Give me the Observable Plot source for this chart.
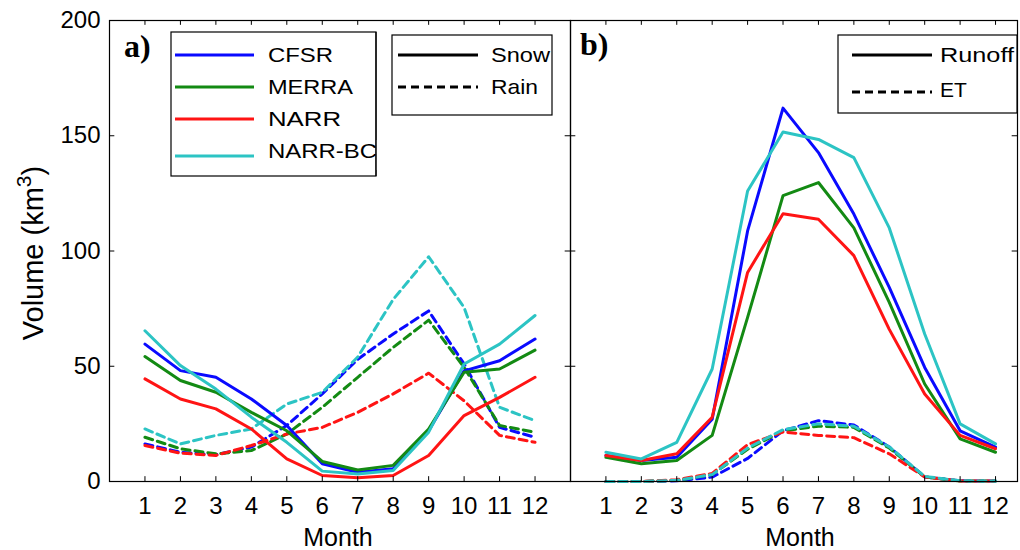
<!DOCTYPE html>
<html>
<head>
<meta charset="utf-8">
<script src="https://cdn.jsdelivr.net/npm/d3@7"></script>
<script src="https://cdn.jsdelivr.net/npm/@observablehq/plot@0.6"></script>
<style>
  html, body { margin: 0; padding: 0; background: #fff; }
  #wrap { position: relative; width: 1020px; height: 550px; overflow: hidden; font-family: "Liberation Sans", Arial, sans-serif; }
  #wrap > .pa, #wrap > .pb, #wrap > svg.ov { position: absolute; top: 0; }
  .pa { left: 0; }
  .pb { left: 569px; }
  svg.ov { left: 0; pointer-events: none; }
</style>
</head>
<body>
<div id="wrap"></div>
<script>
// ---------- data ----------
const months = [1,2,3,4,5,6,7,8,9,10,11,12];
const products = ["CFSR", "MERRA", "NARR", "NARR-BC"];
const productColors = ["#0a0aff", "#138a13", "#ff1414", "#2cc4c4"];
const yTicks = [0, 50, 100, 150, 200];

// Panel a) Snow (solid) and Rain (dashed), km^3
const snowCFSR   = [59.6, 48.1, 45.2, 35.8, 24.3, 7.7, 4.0, 5.5, 22.0, 48.0, 52.4, 61.8];
const snowMERRA  = [54.2, 43.8, 38.7, 30.0, 22.0, 8.7, 5.0, 7.0, 22.8, 47.4, 48.8, 57.0];
const snowNARR   = [44.5, 35.8, 31.5, 22.8, 9.8, 2.6, 1.6, 2.6, 11.3, 28.6, 36.5, 45.2];
const snowNARRBC = [65.4, 50.3, 40.1, 27.9, 17.0, 4.5, 3.3, 4.8, 21.4, 51.0, 59.6, 72.0];

const rainCFSR   = [16.3, 12.7, 11.6, 14.9, 24.3, 38.0, 53.0, 64.0, 74.0, 51.0, 23.5, 19.2];
const rainMERRA  = [19.2, 14.2, 12.0, 13.4, 20.6, 32.2, 45.2, 58.2, 70.0, 49.5, 24.3, 21.4];
const rainNARR   = [15.6, 12.3, 11.3, 15.6, 20.6, 23.5, 30.0, 38.0, 47.0, 35.0, 20.0, 17.0];
const rainNARRBC = [22.8, 16.3, 20.0, 22.8, 33.6, 38.7, 54.0, 79.0, 97.5, 75.5, 32.2, 26.4];

// Panel b) Runoff (solid) and ET (dashed), km^3
const runoffCFSR   = [11.3, 9.1, 10.5, 27.0, 108.7, 162.0, 142.7, 116.0, 84.2, 49.5, 22.0, 14.9];
const runoffMERRA  = [10.5, 7.7, 9.1, 20.0, 71.2, 124.0, 129.7, 110.0, 77.7, 42.3, 18.5, 12.7];
const runoffNARR   = [11.3, 9.1, 12.0, 27.9, 90.7, 116.2, 113.8, 98.0, 66.0, 38.0, 20.0, 14.2];
const runoffNARRBC = [12.7, 9.8, 17.0, 48.8, 126.0, 151.6, 148.4, 140.5, 110.0, 64.0, 25.0, 16.3];

const etCFSR   = [0.0, 0.0, 0.3, 1.9, 10.0, 22.0, 26.4, 24.5, 15.0, 2.0, 0.3, 0.2];
const etMERRA  = [0.0, 0.0, 0.5, 3.0, 14.0, 22.0, 24.0, 23.5, 14.5, 2.0, 0.2, 0.2];
const etNARR   = [0.0, 0.0, 0.8, 3.5, 16.0, 21.5, 20.0, 19.0, 12.0, 2.0, 0.2, 0.2];
const etNARRBC = [0.0, 0.0, 0.5, 3.0, 14.5, 22.5, 25.0, 24.0, 15.0, 2.2, 0.3, 0.2];

// ---------- build tables ----------
function rows(seriesList, kind) {
  const out = [];
  seriesList.forEach((vals, i) => {
    vals.forEach((v, j) => out.push({month: months[j], product: products[i], kind, value: v}));
  });
  return out;
}
const snowRows   = rows([snowCFSR, snowMERRA, snowNARR, snowNARRBC], "Snow");
const rainRows   = rows([rainCFSR, rainMERRA, rainNARR, rainNARRBC], "Rain");
const runoffRows = rows([runoffCFSR, runoffMERRA, runoffNARR, runoffNARRBC], "Runoff");
const etRows     = rows([etCFSR, etMERRA, etNARR, etNARRBC], "ET");

const DASH = "8,5";
const LW = 3;
const color = {domain: products, range: productColors};
const tickFont = 24;

function innerTicks(xmax) {
  const inner = [50, 100, 150];
  return [
    Plot.ruleX(months, {x: d => d, y1: 0, y2: 2.1, stroke: "black", strokeWidth: 1}),
    Plot.ruleX(months, {x: d => d, y1: 200, y2: 197.9, stroke: "black", strokeWidth: 1}),
    Plot.ruleY(inner, {y: d => d, x1: 0, x2: 0.15, stroke: "black", strokeWidth: 1}),
    Plot.ruleY(inner, {y: d => d, x1: xmax, x2: xmax - 0.15, stroke: "black", strokeWidth: 1})
  ];
}

const plotA = Plot.plot({
  width: 571, height: 550,
  marginLeft: 109, marginRight: 1, marginTop: 20, marginBottom: 69,
  style: {fontFamily: "'Liberation Sans', Arial, sans-serif", background: "transparent", overflow: "visible"},
  x: {domain: [0, 13]},
  y: {domain: [0, 200]},
  color,
  marks: [
    Plot.line(rainRows, {x: "month", y: "value", z: "product", stroke: "product", strokeWidth: LW, strokeDasharray: DASH}),
    Plot.line(snowRows, {x: "month", y: "value", z: "product", stroke: "product", strokeWidth: LW}),
    ...innerTicks(13),
    Plot.axisX(months, {tickSize: 0, tickPadding: 15, fontSize: tickFont, label: null, tickFormat: d => String(d)}),
    Plot.axisY(yTicks, {tickSize: 0, tickPadding: 9, fontSize: tickFont, label: null}),
    Plot.frame({stroke: "black", strokeWidth: 1.2})
  ]
});
plotA.classList.add("pa");

const plotB = Plot.plot({
  width: 451, height: 550,
  marginLeft: 1, marginRight: 3, marginTop: 20, marginBottom: 69,
  style: {fontFamily: "'Liberation Sans', Arial, sans-serif", background: "transparent", overflow: "visible"},
  x: {domain: [0, 12.62]},
  y: {domain: [0, 200]},
  color,
  marks: [
    Plot.line(etRows, {x: "month", y: "value", z: "product", stroke: "product", strokeWidth: LW, strokeDasharray: DASH}),
    Plot.line(runoffRows, {x: "month", y: "value", z: "product", stroke: "product", strokeWidth: LW}),
    ...innerTicks(12.62),
    Plot.axisX(months, {tickSize: 0, tickPadding: 15, fontSize: tickFont, label: null, tickFormat: d => String(d)}),
    Plot.axisY({ticks: [], tickSize: 0, label: null}),
    Plot.frame({stroke: "black", strokeWidth: 1.2})
  ]
});
plotB.classList.add("pb");

const wrap = document.getElementById("wrap");
wrap.appendChild(plotA);
wrap.appendChild(plotB);

// ---------- overlay: panel letters, axis titles, legends ----------
const NS = "http://www.w3.org/2000/svg";
const ov = document.createElementNS(NS, "svg");
ov.setAttribute("class", "ov");
ov.setAttribute("width", 1020);
ov.setAttribute("height", 550);
wrap.appendChild(ov);

function el(tag, attrs, text) {
  const e = document.createElementNS(NS, tag);
  for (const k in attrs) e.setAttribute(k, attrs[k]);
  if (text != null) e.textContent = text;
  ov.appendChild(e);
  return e;
}
function stretch(e, width) {
  e.setAttribute("textLength", width);
  e.setAttribute("lengthAdjust", "spacingAndGlyphs");
}
const sans = "'Liberation Sans', Arial, sans-serif";
const serif = "'Liberation Serif', 'Times New Roman', serif";

el("text", {x: 124, y: 57, "font-family": serif, "font-weight": "bold", "font-size": 32}, "a)");
el("text", {x: 580, y: 55, "font-family": serif, "font-weight": "bold", "font-size": 32}, "b)");

el("text", {x: 338, y: 546, "font-family": sans, "font-size": 25, "text-anchor": "middle"}, "Month");
el("text", {x: 800, y: 546, "font-family": sans, "font-size": 25, "text-anchor": "middle"}, "Month");

const vt = el("text", {transform: "translate(43,253) rotate(-90)", "font-family": sans, "font-size": 29, "text-anchor": "middle"});
const t1 = document.createElementNS(NS, "tspan"); t1.textContent = "Volume (km"; vt.appendChild(t1);
const t2 = document.createElementNS(NS, "tspan"); t2.textContent = "3"; t2.setAttribute("dy", "-12"); t2.setAttribute("font-size", 21); vt.appendChild(t2);
const t3 = document.createElementNS(NS, "tspan"); t3.textContent = ")"; t3.setAttribute("dy", "12"); vt.appendChild(t3);

// Legend 1: products
el("rect", {x: 171, y: 32, width: 205, height: 144, fill: "white", stroke: "black", "stroke-width": 1.2});
const legY = [55, 87, 119, 156];
const legTY = [62, 94, 126, 158];
const legW = [65, 85, 73, 109];
products.forEach((p, i) => {
  el("line", {x1: 175, x2: 254, y1: legY[i], y2: legY[i], stroke: productColors[i], "stroke-width": LW});
  const t = el("text", {x: 268, y: legTY[i], "font-family": sans, "font-size": 21}, p);
  stretch(t, legW[i]);
});
// clip the last label at the legend box edge, as in the original
el("rect", {x: 376.6, y: 140, width: 14, height: 30, fill: "white"});
el("line", {x1: 376, x2: 376, y1: 32, y2: 176, stroke: "black", "stroke-width": 1.2});

// Legend 2: Snow / Rain
el("rect", {x: 392, y: 35, width: 160, height: 80, fill: "white", stroke: "black", "stroke-width": 1.2});
el("line", {x1: 398, x2: 478, y1: 55, y2: 55, stroke: "black", "stroke-width": LW});
el("line", {x1: 398, x2: 478, y1: 87, y2: 87, stroke: "black", "stroke-width": LW, "stroke-dasharray": DASH});
stretch(el("text", {x: 491, y: 62, "font-family": sans, "font-size": 21}, "Snow"), 59);
stretch(el("text", {x: 491, y: 94, "font-family": sans, "font-size": 21}, "Rain"), 47);

// Legend 3: Runoff / ET
el("rect", {x: 838, y: 35, width: 179, height: 78, fill: "white", stroke: "black", "stroke-width": 1.2});
el("line", {x1: 852, x2: 932, y1: 55, y2: 55, stroke: "black", "stroke-width": LW});
el("line", {x1: 852, x2: 932, y1: 92, y2: 92, stroke: "black", "stroke-width": LW, "stroke-dasharray": DASH});
stretch(el("text", {x: 940, y: 62, "font-family": sans, "font-size": 21}, "Runoff"), 74);
el("text", {x: 940, y: 97, "font-family": sans, "font-size": 21}, "ET");
</script>
</body>
</html>
